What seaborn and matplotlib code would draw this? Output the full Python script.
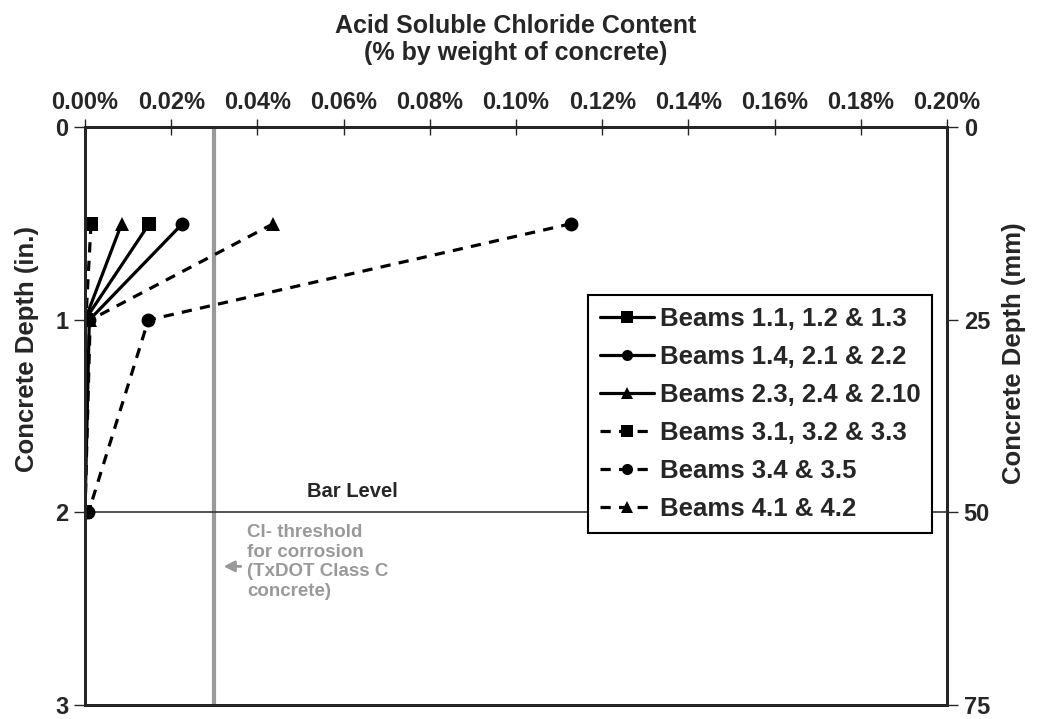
import numpy as np
import pandas as pd
import seaborn as sns
import matplotlib.pyplot as plt
from matplotlib.ticker import FuncFormatter

sns.set_theme(style="white")
plt.rcParams["font.family"] = ["Liberation Sans", "DejaVu Sans"]
plt.rcParams["font.weight"] = "bold"

# depth of the samples (in.)
depths = [0.5, 1.0, 2.0]

# acid soluble chloride content (% by weight of concrete)
series_names = [
    "Beams 1.1, 1.2 & 1.3",
    "Beams 1.4, 2.1 & 2.2",
    "Beams 2.3, 2.4 & 2.10",
    "Beams 3.1, 3.2 & 3.3",
    "Beams 3.4 & 3.5",
    "Beams 4.1 & 4.2",
]
beams_11_13 = [0.0149, 0.0000, 0.0000]
beams_14_22 = [0.0226, 0.0010, 0.0000]
beams_23_210 = [0.0085, 0.0000, 0.0000]
beams_31_33 = [0.0014, 0.0002, 0.0000]
beams_34_35 = [0.1128, 0.0147, 0.0008]
beams_41_42 = [0.0437, 0.0012, 0.0000]
all_values = [beams_11_13, beams_14_22, beams_23_210,
              beams_31_33, beams_34_35, beams_41_42]

threshold = 0.03   # TxDOT class C threshold (%)
bar_level = 2.0    # in.

y_ticks = [0, 1, 2, 3]
mm_labels = ["0", "25", "50", "75"]

df = pd.DataFrame({
    "series": np.repeat(series_names, len(depths)),
    "depth": depths * len(series_names),
    "chloride": np.concatenate(all_values),
})

MARKERS = dict(zip(series_names, ["s", "o", "^", "s", "o", "^"]))
DASHES = dict(zip(series_names, ["", "", "", (3.2, 2.6), (3.2, 2.6), (3.2, 2.6)]))
PALETTE = {s: "black" for s in series_names}

TICK_FS = 17
YLAB_FS = 18.5

fig = plt.figure(figsize=(10.39, 7.19), dpi=100)
ax = fig.add_axes([0.0818, 0.0195, 0.8297, 0.8032])

ax.axvline(threshold, color="#999999", lw=3, zorder=1)
ax.axhline(bar_level, color="#333333", lw=1.2, zorder=1)

sns.lineplot(data=df, x="chloride", y="depth",
    hue="series", style="series",
    palette=PALETTE, markers=MARKERS, dashes=DASHES,
    estimator=None, sort=False,
    lw=2.3, markersize=10, markeredgewidth=0,
    ax=ax, zorder=3)

ax.set_xlim(0, 0.2)
ax.set_ylim(3, 0)
ax.xaxis.tick_top()
ax.set_xticks(np.arange(0, 0.201, 0.02))
ax.xaxis.set_major_formatter(FuncFormatter(lambda x, pos: f"{x:.2f}%"))
ax.set_yticks(y_ticks)
ax.tick_params(axis="x", direction="inout", length=12, width=1, labelsize=TICK_FS, pad=4)
ax.tick_params(axis="y", direction="out", length=8, width=1, labelsize=TICK_FS, pad=4, left=True)
for lab in ax.get_xticklabels() + ax.get_yticklabels():
    lab.set_fontweight("bold")
for sp in ax.spines.values():
    sp.set_linewidth(2)
    sp.set_color("black")

ax.set_xlabel("Acid Soluble Chloride Content\n(% by weight of concrete)",
    fontsize=18, fontweight="bold", labelpad=22, linespacing=1.15)
ax.xaxis.set_label_position("top")
ax.set_ylabel("Concrete Depth (in.)", fontsize=YLAB_FS, fontweight="bold")
ax.yaxis.set_label_coords(-0.053, 0.616)

ax2 = ax.twinx()
ax2.set_ylim(3, 0)
ax2.set_yticks(y_ticks)
ax2.set_yticklabels(mm_labels)
ax2.tick_params(axis="y", direction="out", length=8, width=1, labelsize=TICK_FS, pad=4, right=True)
for lab in ax2.get_yticklabels():
    lab.set_fontweight("bold")
ax2.set_ylabel("Concrete Depth (mm)", fontsize=YLAB_FS, fontweight="bold")
ax2.yaxis.set_label_coords(1.064, 0.61)
for sp in ax2.spines.values():
    sp.set_linewidth(2)
ax2.grid(False)
ax.grid(False)

ax.text(0.0515, 1.92, "Bar Level", fontsize=14.5, fontweight="bold", ha="left", va="baseline")
ax.text(0.0376, 2.06, "Cl- threshold\nfor corrosion\n(TxDOT Class C\nconcrete)",
    color="#999999", fontsize=13.5, fontweight="bold", ha="left", va="top", linespacing=1.2)
ax.annotate("", xy=(0.0315, 2.28), xytext=(0.0368, 2.28),
    arrowprops=dict(arrowstyle="-|>", color="#999999", lw=2, mutation_scale=16))

handles, labels = ax.get_legend_handles_labels()
for h in handles:
    h.set_markersize(8)
leg = ax.legend(handles, labels, loc="upper left", bbox_to_anchor=(0.5835, 0.71),
    frameon=True, fancybox=False, edgecolor="black", framealpha=1,
    handlelength=2.1, handletextpad=0.25, labelspacing=0.55, borderpad=0.45,
    borderaxespad=0, prop=dict(weight="bold", size=18.5))
leg.get_frame().set_linewidth(1.5)
leg.set_zorder(5)

plt.savefig("out.png", dpi=100)
plt.close()
